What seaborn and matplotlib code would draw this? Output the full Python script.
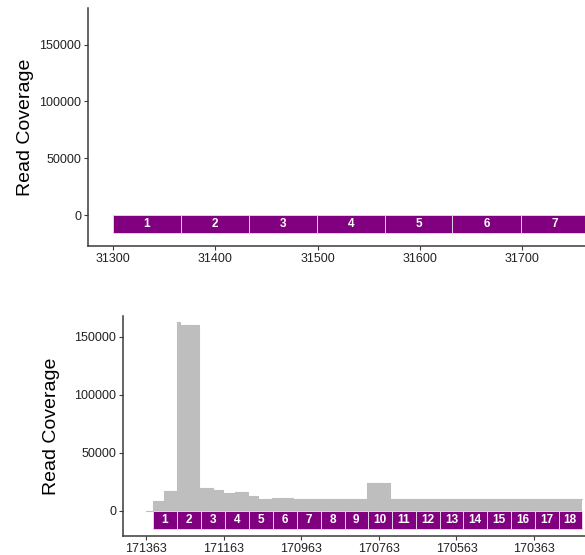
import matplotlib
matplotlib.use("Agg")
import matplotlib.pyplot as plt
import seaborn as sns
import pandas as pd
import numpy as np

# ---- data -------------------------------------------------------------
# upper locus: segment boundaries (7 segments), no coverage in this window
top_bounds = [31300, 31366, 31433, 31499, 31566, 31632, 31699, 31766]
top_labels = [str(i) for i in range(1, 8)]
top_ticks = [31300, 31400, 31500, 31600, 31700]

# lower locus (minus strand, reversed axis): 18 segments
bot_bounds = [171346, 171284, 171222, 171159, 171097, 171036, 170975, 170913,
              170851, 170791, 170729, 170668, 170606, 170545, 170485, 170423,
              170362, 170300, 170241]
bot_labels = [str(i) for i in range(1, 19)]
bot_ticks = [171363, 171163, 170963, 170763, 170563, 170363]

# read coverage as steps: value holds from cov_pos[i] to cov_pos[i+1]
cov_pos = [171363, 171346, 171317, 171284, 171275, 171225, 171191, 171165,
           171134, 171101, 171075, 171039, 170985, 170859, 170793, 170733,
           170306, 170241]
cov_val = [0, 8600, 16900, 162600, 160000, 19400, 18300, 15500, 16600,
           13100, 10700, 11400, 10000, 10700, 24100, 10000, 10700]

yticks = [0, 50000, 100000, 150000]

# ---- style ------------------------------------------------------------
sns.set_theme(style="ticks")
plt.rcParams["font.family"] = ["Liberation Sans", "DejaVu Sans"]

PURPLE = "#800080"
GREY = "#BEBEBE"
AXIS = "#3a3a3a"
BAR_LOW, BAR_HIGH = -15500, 0

fig = plt.figure(figsize=(5.85, 5.55), dpi=100)
ax1 = fig.add_axes([88 / 585, 1 - 246 / 555, (585 - 88) / 585, 238 / 555])
ax2 = fig.add_axes([123 / 585, 1 - 536 / 555, (585 - 123) / 585, 220 / 555])


def draw_segments(ax, bounds, labels):
    lefts = np.minimum(bounds[:-1], bounds[1:])
    widths = np.abs(np.diff(bounds))
    ax.bar(lefts, BAR_LOW - BAR_HIGH, width=widths, bottom=BAR_HIGH,
           align="edge", color=PURPLE, edgecolor="#e6cfe6", linewidth=0.7,
           zorder=3)
    for lab, a, b in zip(labels, bounds[:-1], bounds[1:]):
        ax.text((a + b) / 2, (BAR_LOW + BAR_HIGH) / 2, lab, color="white",
                fontsize=8.5, fontweight="bold", ha="center", va="center",
                zorder=4, clip_on=True)


def style_axes(ax, xticks):
    sns.despine(ax=ax)
    for s in ("left", "bottom"):
        ax.spines[s].set_color(AXIS)
        ax.spines[s].set_linewidth(1.1)
    ax.set_yticks(yticks)
    ax.set_yticklabels([str(v) for v in yticks])
    ax.set_xticks(xticks)
    ax.set_xticklabels([str(v) for v in xticks])
    ax.tick_params(axis="both", length=3, width=0.8, color=AXIS,
                   labelsize=9, labelcolor="#222222", pad=2)
    ax.set_xlabel("")
    ax.set_ylabel("Read Coverage", fontsize=14, color="black")


# upper panel
draw_segments(ax1, top_bounds, top_labels)
ax1.set_xlim(31275.5, 31761.6)
ax1.set_ylim(-27300, 182300)
style_axes(ax1, top_ticks)
ax1.yaxis.labelpad = 4

# lower panel: coverage steps
step_x = np.repeat(cov_pos, 2)[1:-1]
step_y = np.repeat(cov_val, 2)
cov_df = pd.DataFrame({"position": step_x, "coverage": step_y})
ax2.fill_between(cov_df["position"], 0, cov_df["coverage"], color=GREY,
                 linewidth=0, zorder=1)
sns.lineplot(data=cov_df, x="position", y="coverage", ax=ax2, color=GREY,
             linewidth=0.8, sort=False, estimator=None, zorder=2)
draw_segments(ax2, bot_bounds, bot_labels)
ax2.set_xlim(171422, 170232)
ax2.set_ylim(-21600, 168100)
style_axes(ax2, bot_ticks)
ax2.yaxis.labelpad = 10

fig.savefig("out.png", dpi=100, facecolor="white")
